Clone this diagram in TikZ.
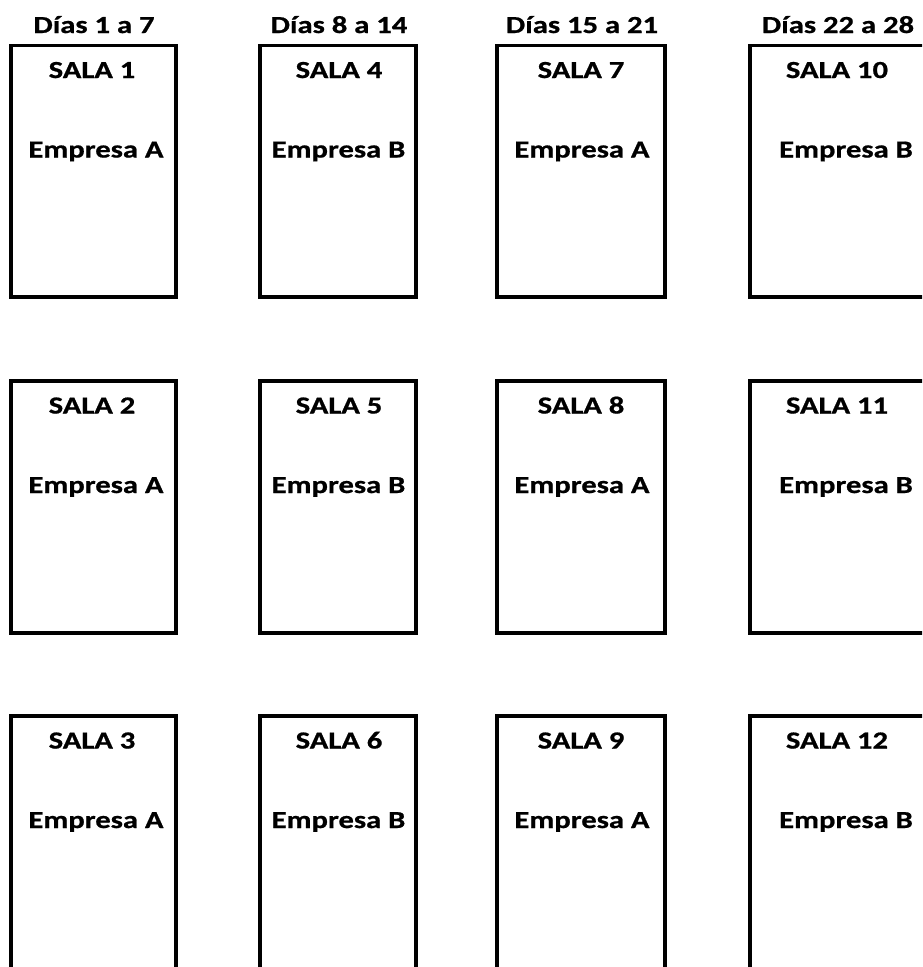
\documentclass[tikz,border=0pt]{standalone}
\usepackage{fontspec}
\setmainfont{Carlito}[FakeStretch=1.25,BoldFeatures={FakeBold=0.8}]
\usetikzlibrary{positioning}
\definecolor{ink}{HTML}{000000}
\tikzset{
  sala/.style={draw=ink,line width=3.6pt,minimum width=165pt,minimum height=251.5pt,inner sep=0pt},
  dias/.style={font=\fontsize{24.5}{29}\selectfont\bfseries,text=ink,anchor=base,inner sep=0pt},
  salatit/.style={font=\fontsize{24.5}{29}\selectfont\bfseries,text=ink,anchor=base,inner sep=0pt},
  emp/.style={font=\fontsize{24.5}{29}\selectfont\bfseries,text=ink,anchor=base,inner sep=0pt}}
\begin{document}
\begin{tikzpicture}[x=1pt,y=-1pt]
\useasboundingbox (0,0) rectangle (922,967);
\clip (0,0) rectangle (922,967);
% cabeceras
\node[dias] (dias1) at (94,33) {Días 1 a 7};
\node[dias] (dias2) at (339,33) {Días 8 a 14};
\node[dias] (dias3) at (582,33) {Días 15 a 21};
\node[dias] (dias4) at (838,33) {Días 22 a 28};
% fila 1
\node[sala] (s1) at (93.5,171.25) {};
\node[sala,minimum width=156pt] (s4) at (338,171.25) {};
\node[sala,minimum width=168pt] (s7) at (581,171.25) {};
\node[sala,minimum width=176pt] (s10) at (838,171.25) {};
\node[salatit] (s1t) at (92,78) {SALA 1};\node[emp] (s1e) at (96,157.5) {Empresa A};
\node[salatit] (s4t) at (339,78) {SALA 4};\node[emp] (s4e) at (338.5,157.5) {Empresa B};
\node[salatit] (s7t) at (581,78) {SALA 7};\node[emp] (s7e) at (582,157.5) {Empresa A};
\node[salatit] (s10t) at (837,78) {SALA 10};\node[emp] (s10e) at (846,157.5) {Empresa B};
% fila 2
\node[sala] (s2) at (93.5,507) {};
\node[sala,minimum width=156pt] (s5) at (338,507) {};
\node[sala,minimum width=168pt] (s8) at (581,507) {};
\node[sala,minimum width=176pt] (s11) at (838,507) {};
\node[salatit] (s2t) at (92,413.5) {SALA 2};\node[emp] (s2e) at (96,493) {Empresa A};
\node[salatit] (s5t) at (339,413.5) {SALA 5};\node[emp] (s5e) at (338.5,493) {Empresa B};
\node[salatit] (s8t) at (581,413.5) {SALA 8};\node[emp] (s8e) at (582,493) {Empresa A};
\node[salatit] (s11t) at (837,413.5) {SALA 11};\node[emp] (s11e) at (846,493) {Empresa B};
% fila 3
\node[sala,minimum height=270pt] (s3) at (93.5,851) {};
\node[sala,minimum width=156pt,minimum height=270pt] (s6) at (338,851) {};
\node[sala,minimum width=168pt,minimum height=270pt] (s9) at (581,851) {};
\node[sala,minimum width=176pt,minimum height=270pt] (s12) at (838,851) {};
\node[salatit] (s3t) at (92,748.5) {SALA 3};\node[emp] (s3e) at (96,828) {Empresa A};
\node[salatit] (s6t) at (339,748.5) {SALA 6};\node[emp] (s6e) at (338.5,828) {Empresa B};
\node[salatit] (s9t) at (581,748.5) {SALA 9};\node[emp] (s9e) at (582,828) {Empresa A};
\node[salatit] (s12t) at (837,748.5) {SALA 12};\node[emp] (s12e) at (846,828) {Empresa B};
\end{tikzpicture}
\end{document}
